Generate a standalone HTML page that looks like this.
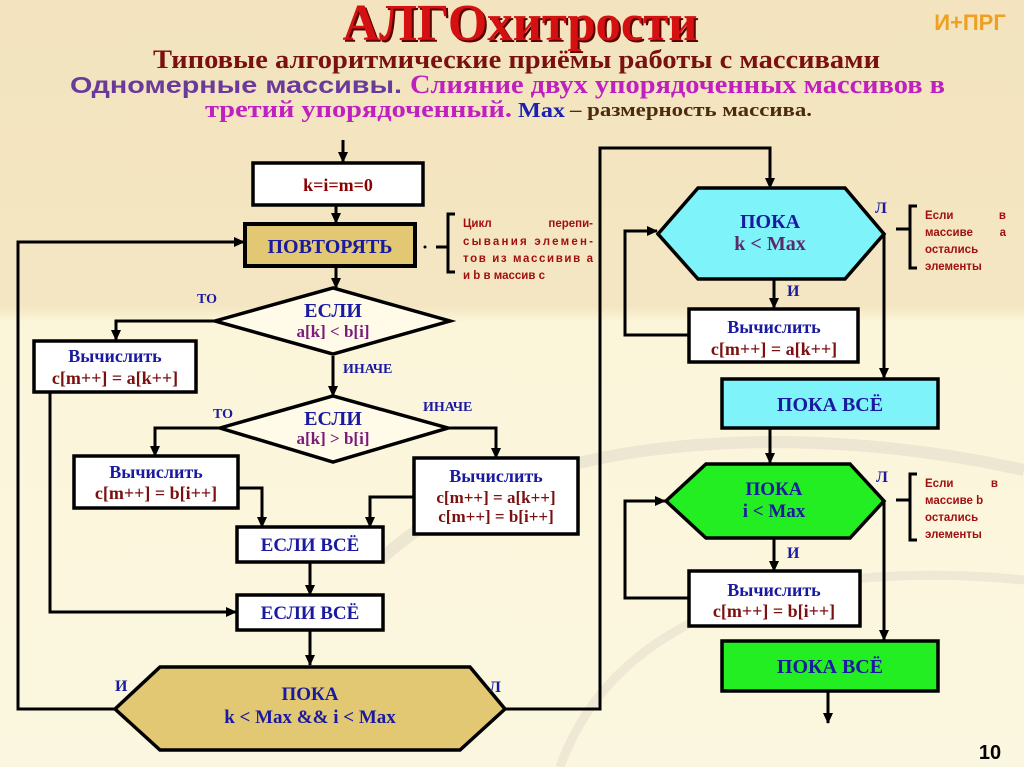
<!DOCTYPE html>
<html><head><meta charset="utf-8"><style>
html,body{margin:0;padding:0;background:#f6ebc8;}
svg{display:block;}
.s{font-family:"Liberation Serif",serif;font-weight:bold;}
.a{font-family:"Liberation Sans",sans-serif;font-weight:bold;}
</style></head><body>
<svg width="1024" height="767" viewBox="0 0 1024 767" xmlns="http://www.w3.org/2000/svg">
<defs>
<marker id="ar" markerWidth="11" markerHeight="10" refX="10" refY="5" orient="auto" markerUnits="userSpaceOnUse"><path d="M0,0 L11,5 L0,10 z" fill="#000"/></marker>
<linearGradient id="bg" x1="0" y1="0" x2="0" y2="1"><stop offset="0" stop-color="#f3e4bf"/><stop offset="0.4" stop-color="#f4e6c2"/><stop offset="0.42" stop-color="#fbf5da"/><stop offset="1" stop-color="#fbf6df"/></linearGradient>
</defs>
<rect width="1024" height="767" fill="url(#bg)"/>
<path d="M380,560 C520,430 800,420 1024,470" stroke="#e2dccb" stroke-width="12" fill="none" opacity="0.6"/>
<path d="M560,767 C620,600 820,560 1024,580" stroke="#e6e0cf" stroke-width="9" fill="none" opacity="0.6"/>

<!-- title -->
<text x="522" y="42" text-anchor="middle" class="s" font-size="52" fill="#5a0000" textLength="355" lengthAdjust="spacingAndGlyphs">АЛГОхитрости</text>
<text x="520" y="40" text-anchor="middle" class="s" font-size="52" fill="#d41010" textLength="355" lengthAdjust="spacingAndGlyphs">АЛГОхитрости</text>
<text x="970" y="30" text-anchor="middle" class="a" font-size="22" fill="#f0a020">И+ПРГ</text>
<text x="153" y="68" class="s" font-size="26" fill="#7a1010" textLength="727" lengthAdjust="spacingAndGlyphs">Типовые алгоритмические приёмы работы с массивами</text>
<text x="70" y="93" class="a" font-size="23" fill="#6a3a9a" textLength="332" lengthAdjust="spacingAndGlyphs">Одномерные массивы.</text>
<text x="410" y="93" class="s" font-size="26" fill="#c020c0" textLength="535" lengthAdjust="spacingAndGlyphs">Слияние двух упорядоченных массивов в</text>
<text x="205" y="117" class="s" font-size="24" fill="#c020c0" textLength="307" lengthAdjust="spacingAndGlyphs">третий упорядоченный.</text>
<text x="518" y="117" class="s" font-size="21" fill="#1a20b0" textLength="47" lengthAdjust="spacingAndGlyphs">Max</text>
<text x="570" y="116" class="s" font-size="19" fill="#4a2a10" textLength="242" lengthAdjust="spacingAndGlyphs">– размерность массива.</text>

<g stroke="#000" stroke-width="3" fill="none">
<line x1="343" y1="140" x2="343" y2="162" marker-end="url(#ar)"/>
<line x1="336" y1="205" x2="336" y2="223" marker-end="url(#ar)"/>
<polyline points="115,709 18,709 18,242 244,242" marker-end="url(#ar)"/>
<line x1="336" y1="266" x2="336" y2="288" marker-end="url(#ar)"/>
<polyline points="215,321 116,321 116,340" marker-end="url(#ar)"/>
<polyline points="50,392 50,612 236,612" marker-end="url(#ar)"/>
<line x1="333" y1="356" x2="333" y2="396" marker-end="url(#ar)"/>
<polyline points="220,428 155,428 155,456" marker-end="url(#ar)"/>
<polyline points="448,428 496,428 496,458" marker-end="url(#ar)"/>
<polyline points="238,488 262,488 262,527" marker-end="url(#ar)"/>
<polyline points="414,497 370,497 370,527" marker-end="url(#ar)"/>
<line x1="310" y1="562" x2="310" y2="595" marker-end="url(#ar)"/>
<line x1="310" y1="630" x2="310" y2="665" marker-end="url(#ar)"/>
<polyline points="505,709 600,709 600,148 770,148 770,188" marker-end="url(#ar)"/>
<line x1="774" y1="279" x2="774" y2="308" marker-end="url(#ar)"/>
<polyline points="689,335 625,335 625,231 657,231" marker-end="url(#ar)"/>
<line x1="884" y1="234" x2="884" y2="378" marker-end="url(#ar)"/>
<line x1="770" y1="428" x2="770" y2="463" marker-end="url(#ar)"/>
<line x1="774" y1="538" x2="774" y2="571" marker-end="url(#ar)"/>
<polyline points="689,598 625,598 625,501 665,501" marker-end="url(#ar)"/>
<line x1="884" y1="501" x2="884" y2="640" marker-end="url(#ar)"/>
<line x1="828" y1="691" x2="828" y2="723" marker-end="url(#ar)"/>
<polyline points="455,214 448,214 448,272 455,272"/>
<line x1="436" y1="247" x2="448" y2="247"/>
<polyline points="917,206 910,206 910,268 917,268"/>
<line x1="896" y1="229" x2="910" y2="229"/>
<polyline points="917,474 910,474 910,540 917,540"/>
<line x1="896" y1="500" x2="910" y2="500"/>
</g>
<circle cx="425" cy="247" r="1.5" fill="#000"/>

<g stroke="#000" stroke-width="3.5">
<rect x="253" y="163" width="170" height="42" fill="#fff"/>
<rect x="245" y="224" width="170" height="42" fill="#e2c872" stroke-width="4"/>
<polygon points="215,321 333,288 450,321 333,354" fill="#fffbe8"/>
<rect x="34" y="341" width="162" height="51" fill="#fff"/>
<polygon points="220,428 333,396 448,428 333,462" fill="#fffbe8"/>
<rect x="74" y="456" width="164" height="52" fill="#fff"/>
<rect x="414" y="458" width="164" height="76" fill="#fff"/>
<rect x="237" y="527" width="146" height="35" fill="#fff"/>
<rect x="237" y="595" width="146" height="35" fill="#fff"/>
<polygon points="115,709 160,667 470,667 505,709 460,750 160,750" fill="#e2c872"/>
<polygon points="658,234 698,188 845,188 884,234 845,279 698,279" fill="#7ff3fa"/>
<rect x="689" y="309" width="169" height="53" fill="#fff"/>
<rect x="722" y="379" width="216" height="49" fill="#7ff3fa"/>
<polygon points="666,501 706,464 850,464 884,501 850,538 706,538" fill="#22ee22"/>
<rect x="689" y="571" width="171" height="55" fill="#fff"/>
<rect x="722" y="641" width="216" height="50" fill="#22ee22"/>
</g>

<g class="s" text-anchor="middle">
<text x="338" y="191" font-size="18" fill="#8b0000">k=i=m=0</text>
<text x="330" y="253" font-size="20" fill="#1a1aa0">ПОВТОРЯТЬ</text>
<text x="333" y="317" font-size="20" fill="#1a1aa0">ЕСЛИ</text>
<text x="333" y="337" font-size="17" fill="#7a1a7a">a[k] &lt; b[i]</text>
<text x="115" y="362" font-size="18" fill="#1a1aa0">Вычислить</text>
<text x="115" y="384" font-size="18" fill="#7a1010">c[m++] = a[k++]</text>
<text x="333" y="425" font-size="20" fill="#1a1aa0">ЕСЛИ</text>
<text x="333" y="444" font-size="17" fill="#7a1a7a">a[k] &gt; b[i]</text>
<text x="156" y="478" font-size="18" fill="#1a1aa0">Вычислить</text>
<text x="156" y="499" font-size="18" fill="#7a1010">c[m++] = b[i++]</text>
<text x="496" y="482" font-size="18" fill="#1a1aa0">Вычислить</text>
<text x="496" y="503" font-size="17" fill="#7a1010">c[m++] = a[k++]</text>
<text x="496" y="522" font-size="17" fill="#7a1010">c[m++] = b[i++]</text>
<text x="310" y="551" font-size="19" fill="#1a1aa0">ЕСЛИ ВСЁ</text>
<text x="310" y="619" font-size="19" fill="#1a1aa0">ЕСЛИ ВСЁ</text>
<text x="310" y="700" font-size="19" fill="#1a1aa0">ПОКА</text>
<text x="310" y="723" font-size="19" fill="#1a1aa0">k &lt; Max &amp;&amp; i &lt; Max</text>
<text x="770" y="228" font-size="20" fill="#1a1aa0">ПОКА</text>
<text x="770" y="250" font-size="20" fill="#5a2a6a">k &lt; Max</text>
<text x="774" y="333" font-size="18" fill="#1a1aa0">Вычислить</text>
<text x="774" y="355" font-size="18" fill="#7a1010">c[m++] = a[k++]</text>
<text x="830" y="411" font-size="20" fill="#1a1aa0">ПОКА ВСЁ</text>
<text x="774" y="495" font-size="19" fill="#1a1aa0">ПОКА</text>
<text x="774" y="517" font-size="19" fill="#1a1aa0">i &lt; Max</text>
<text x="774" y="596" font-size="18" fill="#1a1aa0">Вычислить</text>
<text x="774" y="617" font-size="18" fill="#7a1010">c[m++] = b[i++]</text>
<text x="830" y="673" font-size="20" fill="#1a1aa0">ПОКА ВСЁ</text>
</g>
<g class="s" font-size="14" fill="#1a1aa0">
<text x="197" y="303">ТО</text>
<text x="343" y="373">ИНАЧЕ</text>
<text x="213" y="418">ТО</text>
<text x="423" y="411">ИНАЧЕ</text>
<text x="115" y="691" font-size="16">И</text>
<text x="489" y="692" font-size="16">Л</text>
<text x="875" y="213" font-size="16">Л</text>
<text x="787" y="296" font-size="16">И</text>
<text x="876" y="482" font-size="16">Л</text>
<text x="787" y="558" font-size="16">И</text>
</g>
<g class="a" font-size="11.5" fill="#a01010" font-weight="normal">
<text x="463" y="227">Цикл</text><text x="593" y="227" text-anchor="end">перепи-</text>
<text x="463" y="245" textLength="130" lengthAdjust="spacing">сывания элемен-</text>
<text x="463" y="262" textLength="130" lengthAdjust="spacing">тов из массивив а</text>
<text x="463" y="279">и b в массив с</text>
<text x="925" y="219">Если</text><text x="1006" y="219" text-anchor="end">в</text>
<text x="925" y="236">массиве</text><text x="1006" y="236" text-anchor="end">а</text>
<text x="925" y="253">остались</text>
<text x="925" y="270">элементы</text>
<text x="925" y="487">Если</text><text x="998" y="487" text-anchor="end">в</text>
<text x="925" y="504">массиве b</text>
<text x="925" y="521">остались</text>
<text x="925" y="538">элементы</text>
</g>
<text x="990" y="759" text-anchor="middle" class="a" font-size="20" fill="#000">10</text>
</svg>
</body></html>
